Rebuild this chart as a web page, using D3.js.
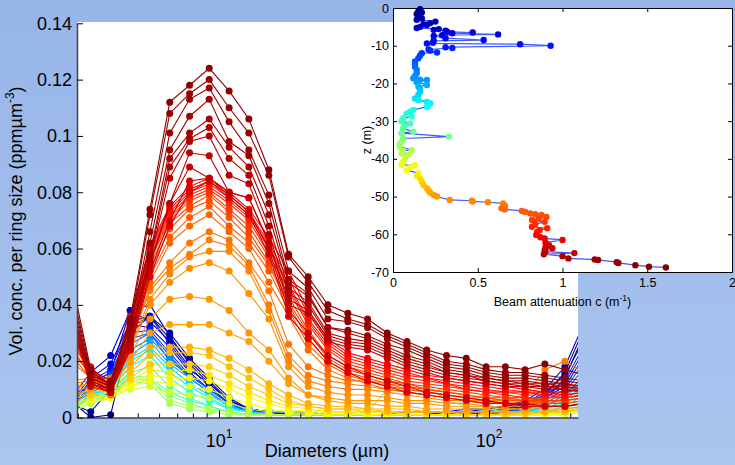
<!DOCTYPE html>
<html>
<head>
<meta charset="utf-8">
<script src="https://cdnjs.cloudflare.com/ajax/libs/d3/7.8.5/d3.min.js"></script>
<style>
    html, body { margin: 0; padding: 0; overflow: hidden; }
    body { width: 735px; height: 465px; }
    text { font-family: "Liberation Sans", Arial, Helvetica, sans-serif; fill: #000; }
</style>
</head>
<body>
<div id="chart"></div>
<script>
// size bins (µm), one per marker column
const diameters = [2.83, 3.35, 3.97, 4.69, 5.55, 6.57, 7.78, 9.2, 10.9, 12.9, 15.3, 18.1, 21.4, 25.3,
    30.0, 35.5, 42.0, 49.7, 58.8, 69.6, 82.4, 97.5, 115, 136, 161, 191, 226];

// depth (m) of every size spectrum, sets its colour
const profileDepths = [0.5, 1.5, 3, 5, 7, 9, 11, 13, 15, 17.5, 20, 22.5, 25, 27.5, 30, 32, 34, 36, 38,
    40, 42, 43.5, 45, 46.5, 47.5, 48.5, 49.5, 50.2, 50.8, 51.4, 52.0, 52.6,
    53.5, 54.3, 55.1, 55.9, 56.7, 57.5, 58.3, 59.1, 60.0, 61.0,
    62.8, 63.5, 64.2, 64.8, 65.3, 65.8, 66.3, 66.8, 67.2, 67.6, 68.0];

// volume concentration per ring, in 1e-3 ppm µm^-3
const volConcMilli = [
    [6, 0, 1, 30, 36, 28, 20, 13, 6, 3, 2, 1, 1, 1, 1, 1, 1, 1, 1, 1, 2, 2, 2, 3, 6, 14, 30],
    [5, 2, 10, 32, 36, 30, 21, 14, 7, 3, 2, 1, 1, 1, 1, 1, 1, 1, 1, 1, 1, 2, 2, 4, 8, 16, 32],
    [6, 12, 16, 38, 40, 29, 19, 12, 6, 3, 2, 2, 1, 1, 1, 1, 1, 1, 1, 1, 2, 2, 3, 5, 9, 15, 28],
    [7, 16, 22, 38, 34, 27, 18, 11, 5, 3, 2, 1, 1, 1, 1, 1, 1, 1, 1, 2, 2, 3, 4, 6, 10, 18, 34],
    [6, 14, 19, 34, 36, 26, 17, 12, 6, 3, 2, 2, 2, 1, 1, 1, 1, 2, 2, 2, 3, 3, 4, 5, 8, 12, 24],
    [5, 13, 17, 33, 32, 25, 16, 10, 5, 2, 2, 1, 1, 1, 1, 1, 1, 1, 1, 2, 2, 2, 3, 4, 7, 11, 22],
    [5, 12, 16, 30, 31, 23, 15, 10, 5, 2, 1, 1, 1, 1, 1, 1, 1, 1, 1, 1, 2, 2, 3, 5, 8, 13, 26],
    [4, 11, 15, 28, 30, 22, 14, 9, 4, 2, 1, 1, 1, 1, 1, 1, 1, 1, 1, 1, 1, 2, 2, 3, 6, 10, 20],
    [4, 10, 13, 26, 30, 20, 15, 10, 5, 2, 1, 1, 1, 1, 1, 1, 1, 1, 1, 1, 1, 1, 2, 3, 5, 9, 18],
    [4, 9, 12, 24, 28, 21, 14, 9, 4, 2, 1, 1, 1, 1, 1, 1, 1, 1, 1, 1, 1, 1, 2, 2, 4, 8, 15],
    [4, 9, 12, 22, 27, 19, 14, 9, 4, 2, 1, 1, 1, 1, 1, 1, 1, 1, 1, 1, 1, 1, 1, 2, 4, 7, 14],
    [3, 8, 11, 21, 25, 18, 12, 8, 4, 2, 1, 1, 1, 1, 1, 1, 1, 1, 1, 1, 1, 1, 1, 2, 3, 6, 12],
    [3, 8, 10, 20, 24, 16, 11, 7, 3, 2, 1, 1, 1, 1, 1, 1, 1, 1, 1, 1, 1, 1, 1, 2, 3, 5, 10],
    [3, 7, 10, 18, 22, 14, 9, 6, 3, 2, 1, 1, 1, 1, 1, 1, 1, 1, 1, 1, 1, 1, 1, 1, 2, 4, 8],
    [3, 7, 9, 16, 18, 11, 7, 4, 2, 1, 1, 1, 1, 1, 1, 1, 1, 1, 1, 1, 1, 1, 1, 1, 2, 3, 6],
    [3, 6, 8, 15, 14, 9, 6, 4, 2, 1, 1, 1, 1, 1, 1, 1, 1, 1, 1, 1, 1, 1, 1, 1, 1, 2, 4],
    [3, 6, 8, 14, 13, 8, 5, 3, 2, 1, 1, 1, 1, 1, 1, 2, 10, 26, 12, 6, 4, 3, 2, 1, 1, 2, 3],
    [2, 5, 7, 13, 12, 5, 3, 2, 1, 1, 1, 1, 1, 1, 1, 1, 1, 1, 1, 1, 1, 1, 1, 1, 1, 1, 2],
    [2, 5, 7, 11, 14, 6, 4, 3, 2, 1, 1, 1, 1, 1, 1, 1, 1, 1, 1, 1, 1, 1, 1, 1, 1, 1, 2],
    [3, 6, 7, 10, 11, 9, 8, 7, 5, 3, 2, 2, 1, 1, 1, 1, 1, 1, 1, 1, 1, 1, 1, 1, 1, 1, 2],
    [3, 6, 7, 11, 13, 12, 11, 10, 7, 5, 3, 2, 2, 1, 1, 1, 1, 1, 1, 1, 1, 1, 1, 1, 1, 1, 2],
    [4, 7, 8, 12, 15, 14, 14, 13, 10, 7, 5, 3, 2, 2, 2, 1, 1, 1, 1, 1, 1, 1, 1, 1, 1, 2, 2],
    [4, 7, 8, 13, 17, 16, 17, 15, 12, 9, 6, 4, 3, 2, 2, 2, 2, 1, 1, 1, 1, 1, 1, 1, 2, 2, 3],
    [5, 8, 9, 14, 19, 19, 19, 18, 15, 11, 8, 5, 4, 3, 3, 2, 2, 2, 2, 2, 1, 1, 1, 1, 2, 2, 3],
    [6, 9, 10, 16, 22, 23, 23, 22, 18, 14, 10, 6, 4, 3, 3, 3, 2, 2, 2, 2, 2, 2, 2, 2, 2, 2, 3],
    [7, 10, 11, 18, 25, 25, 25, 24, 21, 17, 12, 8, 5, 4, 4, 3, 3, 3, 2, 2, 2, 2, 2, 2, 2, 3, 4],
    [8, 10, 11, 20, 30, 33, 33, 33, 30, 27, 20, 12, 8, 6, 5, 5, 4, 4, 3, 3, 3, 3, 3, 3, 3, 3, 4],
    [9, 11, 12, 22, 35, 42, 43, 42, 38, 30, 24, 14, 8, 7, 6, 6, 6, 5, 5, 4, 4, 4, 3, 3, 4, 4, 5],
    [10, 12, 12, 24, 40, 48, 53, 55, 52, 44, 35, 18, 11, 9, 8, 8, 7, 6, 6, 5, 5, 4, 4, 4, 5, 5, 6],
    [11, 12, 13, 25, 42, 51, 57, 59, 59, 52, 38, 20, 13, 11, 10, 10, 9, 8, 7, 6, 6, 5, 5, 5, 6, 6, 7],
    [12, 13, 13, 27, 45, 53, 58, 63, 61, 54, 40, 22, 15, 13, 12, 11, 10, 9, 8, 7, 6, 6, 6, 8, 17, 20, 16],
    [13, 14, 14, 28, 46, 55, 62, 66, 63, 55, 45, 26, 18, 15, 13, 13, 12, 10, 9, 8, 7, 7, 6, 6, 7, 7, 8],
    [20, 14, 8, 28, 48, 62, 68, 72, 66, 60, 48, 36, 24, 17, 14, 12, 10, 9, 8, 7, 6, 5, 5, 4, 4, 4, 5],
    [22, 14, 9, 29, 50, 64, 71, 75, 68, 62, 52, 38, 26, 19, 15, 13, 11, 10, 9, 8, 7, 6, 5, 5, 5, 5, 6],
    [24, 15, 9, 30, 52, 67, 74, 77, 71, 64, 54, 40, 28, 20, 16, 14, 12, 11, 10, 9, 8, 7, 6, 6, 5, 5, 6],
    [25, 15, 9, 31, 54, 69, 75, 79, 73, 66, 55, 41, 30, 21, 17, 15, 13, 12, 10, 9, 8, 7, 7, 6, 6, 6, 7],
    [27, 16, 10, 32, 56, 70, 77, 80, 74, 68, 57, 43, 31, 22, 18, 16, 14, 12, 11, 10, 9, 8, 7, 7, 6, 6, 7],
    [28, 16, 10, 33, 57, 71, 78, 81, 76, 70, 58, 45, 33, 24, 19, 17, 15, 13, 12, 11, 10, 9, 8, 7, 7, 7, 8],
    [29, 17, 10, 34, 58, 72, 79, 82, 77, 71, 60, 46, 34, 25, 20, 18, 16, 14, 13, 12, 10, 9, 9, 8, 8, 7, 8],
    [30, 17, 11, 34, 59, 73, 80, 83, 78, 72, 61, 47, 35, 26, 21, 19, 17, 15, 14, 12, 11, 10, 9, 9, 8, 8, 9],
    [32, 17, 11, 35, 60, 74, 81, 84, 79, 73, 62, 49, 37, 27, 22, 20, 18, 16, 14, 13, 12, 11, 10, 9, 9, 8, 9],
    [33, 18, 11, 36, 61, 75, 82, 85, 80, 74, 64, 52, 38, 28, 23, 21, 19, 17, 15, 14, 13, 12, 11, 10, 9, 9, 10],
    [34, 11, 9, 24, 50, 68, 80, 84, 78, 72, 58, 36, 28, 20, 16, 13, 11, 9, 8, 7, 6, 5, 5, 4, 4, 4, 5],
    [35, 12, 9, 24, 52, 70, 84, 85, 79, 73, 60, 38, 30, 22, 18, 15, 13, 11, 9, 8, 7, 6, 5, 5, 4, 4, 5],
    [36, 12, 9, 25, 54, 76, 89, 85, 80, 78, 62, 40, 37, 27, 25, 24, 21, 18, 16, 14, 13, 12, 11, 11, 10, 10, 9],
    [37, 12, 10, 26, 55, 76, 94, 93, 80, 78, 62, 42, 38, 28, 26, 25, 22, 19, 17, 15, 14, 13, 12, 11, 11, 10, 9],
    [38, 13, 10, 27, 56, 85, 98, 100, 86, 83, 65, 44, 40, 29, 27, 26, 23, 20, 18, 16, 15, 13, 12, 12, 11, 11, 9],
    [40, 13, 10, 28, 57, 89, 99, 103, 92, 86, 68, 46, 41, 30, 28, 27, 24, 21, 19, 16, 15, 14, 13, 12, 12, 11, 10],
    [41, 14, 11, 29, 58, 92, 101, 106, 96, 89, 72, 48, 43, 32, 30, 28, 25, 22, 20, 17, 16, 14, 13, 13, 12, 12, 10],
    [43, 14, 11, 30, 62, 95, 107, 113, 98, 93, 76, 49, 44, 32, 31, 29, 26, 24, 21, 18, 17, 15, 14, 14, 13, 12, 11],
    [45, 15, 12, 32, 66, 101, 113, 117, 105, 95, 79, 52, 46, 35, 34, 32, 28, 25, 22, 19, 18, 16, 15, 15, 14, 13, 12],
    [47, 16, 12, 33, 72, 108, 115, 120, 110, 101, 86, 57, 48, 38, 35, 33, 29, 26, 23, 20, 19, 17, 16, 16, 15, 14, 13],
    [50, 17, 13, 35, 74, 112, 118, 124, 116, 106, 88, 58, 50, 40, 37, 35, 30, 27, 24, 22, 21, 18, 18, 17, 19, 17, 15]
];

const yTicks = [0, 0.02, 0.04, 0.06, 0.08, 0.1, 0.12, 0.14];
const xMinorTicks = [3, 4, 5, 6, 7, 8, 9, 20, 30, 40, 50, 60, 70, 80, 90, 200];
const xMajorTicks = [10, 100];

// inset: beam attenuation profile
const castZ = [-0.3, -0.8, -1.2, -1.6, -2.0, -2.4, -2.8, -3.1, -3.6, -4.0, -4.3, -4.5, -5.0, -5.3, -5.6, -5.8,
    -6.0, -6.3, -6.5, -6.7, -7.0, -7.2, -7.4, -8.0, -8.5, -8.7, -9.2, -9.4, -9.6, -10.0, -10.4, -10.6,
    -11.0, -11.3, -11.8, -12.0, -12.6, -13.3, -14.2, -15.0, -15.6, -16.4, -17.3, -18.0, -18.6, -19.0,
    -19.1, -19.6, -20.4, -20.9, -21.5, -22.2, -23.0, -24.0, -24.4, -24.9, -25.3, -25.8, -26.2, -27.0,
    -27.5, -28.0, -28.8, -29.3, -30.0, -30.6, -31.2, -31.9, -32.8, -33.2, -34.1, -34.6, -35.5, -36.2,
    -36.8, -37.7, -37.9, -38.5, -39.0, -40.0, -40.8, -41.6, -41.7, -42.3, -43.0, -43.8, -44.5, -45.2,
    -46.0, -47.0, -47.8, -48.4, -49.0, -49.6, -50.0, -50.9, -51.1, -51.3, -51.5, -51.8, -52.4, -53.1,
    -53.4, -53.8, -54.1, -54.5, -54.7, -54.9, -55.4, -55.8, -56.2, -56.7, -57.3, -58.0, -58.4, -58.9,
    -59.4, -60.2, -60.8, -61.1, -61.5, -62.2, -62.9, -63.4, -63.7, -64.2, -64.6, -65.0, -65.3, -65.8,
    -66.4, -66.7, -66.8, -67.4, -67.6, -68.2, -68.6, -68.8];
const beamC = [0.16, 0.15, 0.17, 0.14, 0.16, 0.15, 0.17, 0.14, 0.25, 0.22, 0.18, 0.20, 0.16, 0.14, 0.27, 0.24,
    0.31, 0.32, 0.47, 0.35, 0.62, 0.29, 0.24, 0.31, 0.535, 0.24, 0.235, 0.20, 0.75, 0.93, 0.31, 0.35,
    0.21, 0.22, 0.26, 0.17, 0.16, 0.15, 0.13, 0.13, 0.13, 0.14, 0.14, 0.13, 0.12, 0.16,
    0.20, 0.14, 0.20, 0.15, 0.16, 0.16, 0.15, 0.13, 0.15, 0.20, 0.22, 0.21, 0.20, 0.12,
    0.10, 0.08, 0.11, 0.06, 0.05, 0.10, 0.07, 0.06, 0.12, 0.05, 0.33, 0.06, 0.05, 0.04,
    0.04, 0.11, 0.06, 0.05, 0.09, 0.07, 0.06, 0.05, 0.13, 0.10, 0.08, 0.15, 0.14, 0.16,
    0.17, 0.18, 0.20, 0.21, 0.22, 0.24, 0.26, 0.335, 0.465, 0.47, 0.56, 0.65, 0.66, 0.64,
    0.66, 0.76, 0.78, 0.81, 0.84, 0.875, 0.905, 0.86, 0.82, 0.895, 0.84, 0.82, 0.91, 0.865,
    0.85, 0.845, 0.87, 0.895, 1.00, 0.90, 0.92, 0.90, 0.94, 0.895, 0.90, 1.07, 0.89, 1.00,
    1.035, 1.19, 1.21, 1.32, 1.33, 1.43, 1.51, 1.61];
const zTicks = [0, -10, -20, -30, -40, -50, -60, -70];
const cTicks = [0, 0.5, 1, 1.5, 2];

const maxDepth = 69;

// matlab jet
function jet(t) {
    const c = v => Math.round(255 * Math.max(0, Math.min(1, v)));
    return `rgb(${c(1.5 - Math.abs(4 * t - 3))},${c(1.5 - Math.abs(4 * t - 2))},${c(1.5 - Math.abs(4 * t - 1))})`;
}

const svg = d3.select("#chart")
    .append("svg")
    .attr("width", 735)
    .attr("height", 465);

const defs = svg.append("defs");
const grad = defs.append("linearGradient")
    .attr("id", "bg")
    .attr("x1", 0).attr("y1", 0).attr("x2", 0).attr("y2", 1);
grad.append("stop").attr("offset", "0%").attr("stop-color", "#97b5e9");
grad.append("stop").attr("offset", "100%").attr("stop-color", "#aac5ef");

defs.append("clipPath")
    .attr("id", "mainClip")
    .append("rect")
    .attr("x", 77).attr("y", 18)
    .attr("width", 501).attr("height", 400);

svg.append("rect")
    .attr("width", 735)
    .attr("height", 465)
    .attr("fill", "url(#bg)");

// ---- main axes ----
const mainLeft = 77, mainRight = 578, mainTop = 22, mainBottom = 417.5;

// 10 and 100 anchor the log axis, then stretch it to the visible frame
const x = d3.scaleLog().domain([10, 100]).range([219, 489]);
x.domain([x.invert(mainLeft), x.invert(mainRight)]).range([mainLeft, mainRight]);

const y = d3.scaleLinear().domain([0, 0.14]).range([mainBottom, 23.3]);

svg.append("rect")
    .attr("x", mainLeft)
    .attr("y", mainTop)
    .attr("width", mainRight - mainLeft)
    .attr("height", mainBottom - mainTop)
    .attr("fill", "#fff");

const line = d3.line()
    .x((v, i) => x(diameters[i]))
    .y(v => y(v / 1000));

const plot = svg.append("g").attr("clip-path", "url(#mainClip)");

volConcMilli.forEach((row, k) => {
    const color = jet(profileDepths[k] / maxDepth);
    const g = plot.append("g");

    g.append("path")
        .attr("d", line(row))
        .attr("fill", "none")
        .attr("stroke", color)
        .attr("stroke-width", 1.1);

    g.selectAll("circle")
        .data(row)
        .enter()
        .append("circle")
        .attr("cx", (v, i) => x(diameters[i]))
        .attr("cy", v => y(v / 1000))
        .attr("r", 3.5)
        .attr("fill", color);
});

function styleAxis(g, size) {
    g.attr("font-family", null).attr("font-size", null);
    g.selectAll("text").attr("font-size", size);
    g.selectAll("line").attr("stroke", "#000");
    g.select(".domain").attr("stroke", "#000");
}

svg.append("g")
    .attr("transform", `translate(${mainLeft},0)`)
    .call(d3.axisLeft(y)
        .tickValues(yTicks)
        .tickSizeInner(-6)
        .tickSizeOuter(0)
        .tickPadding(5)
        .tickFormat(d => String(d)))
    .call(g => styleAxis(g, 18))
    .call(g => g.select(".domain").attr("stroke", "#444").attr("stroke-width", 1.5));

svg.append("g")
    .attr("transform", `translate(0,${mainBottom})`)
    .call(d3.axisBottom(x)
        .tickValues(xMinorTicks)
        .tickSizeInner(-4)
        .tickSizeOuter(0)
        .tickFormat(""))
    .call(g => styleAxis(g, 18));

svg.append("g")
    .attr("transform", `translate(0,${mainBottom})`)
    .call(d3.axisBottom(x)
        .tickValues(xMajorTicks)
        .tickSizeInner(-7)
        .tickSizeOuter(0)
        .tickFormat(""))
    .call(g => styleAxis(g, 18))
    .call(g => g.select(".domain").remove());

xMajorTicks.forEach(v => {
    const t = svg.append("text")
        .attr("x", x(v))
        .attr("y", 447)
        .attr("text-anchor", "middle")
        .attr("font-size", 18);
    t.append("tspan").text("10");
    t.append("tspan")
        .attr("dy", -9)
        .attr("font-size", 12)
        .text(String(Math.round(Math.log10(v))));
});

svg.append("text")
    .attr("x", 327)
    .attr("y", 457)
    .attr("text-anchor", "middle")
    .attr("font-size", 18)
    .text("Diameters (\u00b5m)");

const yLabel = svg.append("text")
    .attr("transform", "translate(22,221) rotate(-90)")
    .attr("text-anchor", "middle")
    .attr("font-size", 18);
yLabel.append("tspan").text("Vol. conc. per ring size (ppm\u00b5m");
yLabel.append("tspan").attr("dy", -8).attr("font-size", 12).text("-3");
yLabel.append("tspan").attr("dy", 8).text(")");

// ---- inset: beam attenuation vs depth ----
const inLeft = 393, inRight = 732, inTop = 8, inBottom = 272;
const xIn = d3.scaleLinear().domain([0, 2]).range([inLeft, inRight]);
const yIn = d3.scaleLinear().domain([-70, 0]).range([inBottom, inTop]);

svg.append("rect")
    .attr("x", inLeft)
    .attr("y", inTop)
    .attr("width", inRight - inLeft)
    .attr("height", inBottom - inTop)
    .attr("fill", "#fff");

svg.append("g")
    .attr("transform", `translate(${inLeft},0)`)
    .call(d3.axisLeft(yIn).tickValues(zTicks).tickSizeInner(-4).tickSizeOuter(0).tickPadding(4)
        .tickFormat(d => String(d)))
    .call(g => styleAxis(g, 12.5));

svg.append("g")
    .attr("transform", `translate(${inRight},0)`)
    .call(d3.axisRight(yIn).tickValues(zTicks).tickSizeInner(-4).tickSizeOuter(0).tickFormat(""))
    .call(g => styleAxis(g, 12.5));

svg.append("g")
    .attr("transform", `translate(0,${inBottom})`)
    .call(d3.axisBottom(xIn).tickValues(cTicks).tickSizeInner(-4).tickSizeOuter(0).tickPadding(6)
        .tickFormat(d => String(d)))
    .call(g => styleAxis(g, 12.5));

svg.append("g")
    .attr("transform", `translate(0,${inTop})`)
    .call(d3.axisTop(xIn).tickValues(cTicks).tickSizeInner(-4).tickSizeOuter(0).tickFormat(""))
    .call(g => styleAxis(g, 12.5));

const profile = castZ.map((z, i) => ({ z, c: beamC[i] }));

svg.append("path")
    .datum(profile)
    .attr("d", d3.line().x(d => xIn(d.c)).y(d => yIn(d.z)))
    .attr("fill", "none")
    .attr("stroke", "#1c3cff")
    .attr("stroke-width", 1.2)
    .attr("stroke-opacity", 0.85);

svg.append("g")
    .selectAll("circle")
    .data(profile)
    .enter()
    .append("circle")
    .attr("cx", d => xIn(d.c))
    .attr("cy", d => yIn(d.z))
    .attr("r", 3.2)
    .attr("fill", d => jet(-d.z / maxDepth));

svg.append("text")
    .attr("transform", "translate(371,140) rotate(-90)")
    .attr("text-anchor", "middle")
    .attr("font-size", 12.5)
    .text("z (m)");

const cLabel = svg.append("text")
    .attr("x", xIn(1))
    .attr("y", 306)
    .attr("text-anchor", "middle")
    .attr("font-size", 12.5);
cLabel.append("tspan").text("Beam attenuation c (m");
cLabel.append("tspan").attr("dy", -5).attr("font-size", 8.5).text("-1");
cLabel.append("tspan").attr("dy", 5).text(")");
</script>
</body>
</html>
